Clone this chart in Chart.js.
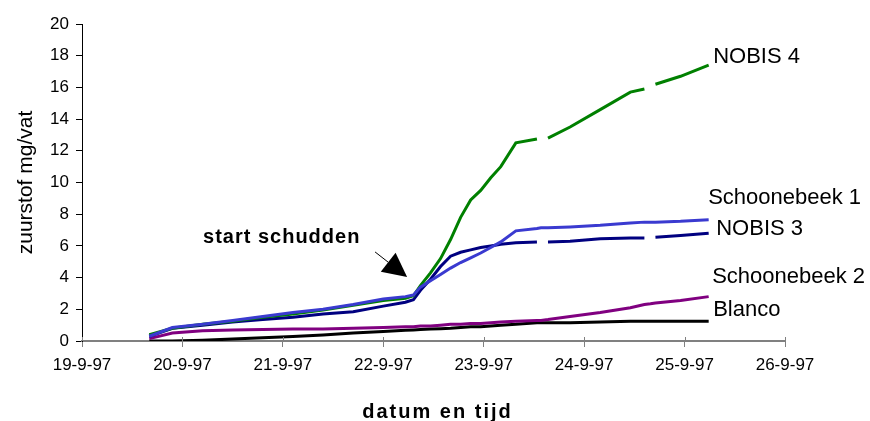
<!DOCTYPE html>
<html>
<head>
<meta charset="utf-8">
<script src="https://cdn.jsdelivr.net/npm/chart.js@4.4.1/dist/chart.umd.min.js"></script>
<style>
  body { margin: 0; background: #fff; }
  canvas { display: block; }
</style>
</head>
<body>
<canvas id="chart" width="870" height="421"></canvas>
<script>
// x: dagen sinds 19-9-97 00:00
const tickLabels = ['19-9-97', '20-9-97', '21-9-97', '22-9-97', '23-9-97', '24-9-97', '25-9-97', '26-9-97'];

const times = [0.67, 0.9, 1.2, 1.5, 1.8, 2.1, 2.4, 2.7, 3.0, 3.22, 3.3, 3.37, 3.47, 3.57, 3.67, 3.77,
  3.87, 3.97, 4.07, 4.17, 4.32, 4.53, 4.57, 4.64, 4.86, 5.16, 5.46, 5.6, 5.66, 5.71, 5.96, 6.24];

const schoonebeek1 = [0.3, 0.85, 1.05, 1.3, 1.55, 1.8, 2.0, 2.3, 2.65, 2.8, 2.9, 3.4, 3.8, 4.2, 4.6, 4.95,
  5.25, 5.55, 5.9, 6.25, 6.95, 7.1, 7.15, 7.15, 7.2, 7.3, 7.45, 7.5, 7.5, 7.5, 7.55, 7.65];

const nobis4 = [0.4, 0.8, 1.05, 1.25, 1.5, 1.7, 1.95, 2.25, 2.55, 2.7, 2.85, 3.5, 4.3, 5.2, 6.4, 7.8,
  8.9, 9.5, 10.3, 11.0, 12.5, 12.75, null, 12.8, 13.5, 14.6, 15.7, 15.9, null, 16.2, 16.7, 17.4];

const nobis3 = [0.3, 0.8, 1.0, 1.2, 1.35, 1.5, 1.7, 1.85, 2.2, 2.45, 2.6, 3.2, 3.9, 4.7, 5.35, 5.6,
  5.75, 5.9, 6.0, 6.1, 6.2, 6.25, null, 6.25, 6.3, 6.45, 6.5, 6.5, null, 6.55, 6.65, 6.8];

const schoonebeek2 = [0.15, 0.5, 0.65, 0.7, 0.72, 0.75, 0.75, 0.8, 0.85, 0.9, 0.9, 0.95, 0.95, 1.0, 1.05, 1.05,
  1.1, 1.1, 1.15, 1.2, 1.25, 1.3, 1.3, 1.35, 1.55, 1.8, 2.1, 2.3, 2.35, 2.4, 2.55, 2.8];

const blanco = [0.0, 0.0, 0.05, 0.12, 0.2, 0.28, 0.38, 0.5, 0.6, 0.68, 0.7, 0.72, 0.75, 0.78, 0.8, 0.85,
  0.9, 0.9, 0.95, 1.0, 1.05, 1.15, 1.15, 1.15, 1.15, 1.2, 1.25, 1.25, 1.25, 1.25, 1.25, 1.25];

const series = [
  { label: 'Schoonebeek 1', values: schoonebeek1, color: '#3a3ad0' },
  { label: 'NOBIS 4', values: nobis4, color: '#008000' },
  { label: 'NOBIS 3', values: nobis3, color: '#000080' },
  { label: 'Schoonebeek 2', values: schoonebeek2, color: '#800080' },
  { label: 'Blanco', values: blanco, color: '#000000' }
];

// naam-labels rechts van de lijnen (x in dagen, y = basislijn)
const lineLabels = [
  { text: 'NOBIS 4', x: 6.285, y: 17.54 },
  { text: 'Schoonebeek 1', x: 6.235, y: 8.64 },
  { text: 'NOBIS 3', x: 6.315, y: 6.69 },
  { text: 'Schoonebeek 2', x: 6.275, y: 3.66 },
  { text: 'Blanco', x: 6.285, y: 1.58 }
];

const annotation = { text: 'start schudden', x: 1.205, y: 6.18, arrowFrom: [2.918, 5.62], arrowTo: [3.237, 4.04] };

const FONT = "'Liberation Sans', Arial, sans-serif";

const labelPlugin = {
  id: 'labels',
  afterDraw(chart) {
    const ctx = chart.ctx;
    const xs = chart.scales.x, ys = chart.scales.y;
    ctx.save();

    // x-ticks lopen door de as heen
    ctx.strokeStyle = '#808080';
    ctx.lineWidth = 1;
    const y0 = ys.getPixelForValue(0);
    xs.ticks.forEach(t => {
      const px = Math.round(xs.getPixelForValue(t.value)) + 0.5;
      ctx.beginPath();
      ctx.moveTo(px, y0 - 4);
      ctx.lineTo(px, y0);
      ctx.stroke();
    });

    ctx.fillStyle = '#000';
    ctx.textBaseline = 'alphabetic';
    ctx.textAlign = 'left';
    ctx.font = '22px ' + FONT;
    lineLabels.forEach(l => {
      ctx.fillText(l.text, xs.getPixelForValue(l.x), ys.getPixelForValue(l.y));
    });

    ctx.font = 'bold 20px ' + FONT;
    ctx.letterSpacing = '1px';
    ctx.fillText(annotation.text, xs.getPixelForValue(annotation.x), ys.getPixelForValue(annotation.y));

    // pijl
    const ax = xs.getPixelForValue(annotation.arrowFrom[0]), ay = ys.getPixelForValue(annotation.arrowFrom[1]);
    const bx = xs.getPixelForValue(annotation.arrowTo[0]), by = ys.getPixelForValue(annotation.arrowTo[1]);
    const ang = Math.atan2(by - ay, bx - ax);
    const headLen = 24, headW = 12;
    const hx = bx - headLen * Math.cos(ang), hy = by - headLen * Math.sin(ang);
    ctx.strokeStyle = '#000';
    ctx.lineWidth = 1;
    ctx.beginPath();
    ctx.moveTo(ax, ay);
    ctx.lineTo(hx, hy);
    ctx.stroke();
    ctx.beginPath();
    ctx.moveTo(bx, by);
    ctx.lineTo(hx + headW * Math.sin(ang), hy - headW * Math.cos(ang));
    ctx.lineTo(hx - headW * Math.sin(ang), hy + headW * Math.cos(ang));
    ctx.closePath();
    ctx.fill();

    // x-as titel
    ctx.font = 'bold 20px ' + FONT;
    ctx.letterSpacing = '2px';
    ctx.textAlign = 'center';
    const area = chart.chartArea;
    ctx.fillText('datum en tijd', (area.left + area.right) / 2 + 4, 418);
    ctx.restore();
  }
};

new Chart(document.getElementById('chart'), {
  type: 'line',
  data: {
    datasets: series.map(s => ({
      label: s.label,
      data: times.map((t, i) => ({ x: t, y: s.values[i] })),
      borderColor: s.color,
      backgroundColor: s.color,
      borderWidth: 3,
      pointRadius: 0,
      tension: 0,
      spanGaps: false
    }))
  },
  options: {
    responsive: false,
    animation: false,
    layout: { padding: { top: 24, right: 85, left: 0, bottom: 0 } },
    plugins: { legend: { display: false }, tooltip: { enabled: false } },
    scales: {
      x: {
        type: 'linear',
        min: 0,
        max: 7,
        afterFit: s => { s.height = 80; },
        afterBuildTicks: s => { s.ticks = tickLabels.map((_, i) => ({ value: i })); },
        ticks: {
          callback: v => tickLabels[v],
          color: '#000',
          font: { family: FONT, size: 17 },
          padding: 8,
          maxRotation: 0,
          autoSkip: false
        },
        grid: { drawOnChartArea: false, color: '#808080', tickLength: 6 },
        border: { color: '#808080', width: 2 }
      },
      y: {
        min: 0,
        max: 20,
        afterFit: s => { s.width = 82; },
        ticks: {
          stepSize: 2,
          color: '#000',
          font: { family: FONT, size: 17 },
          padding: 7
        },
        grid: { drawOnChartArea: false, color: '#000', tickLength: 6 },
        border: { color: '#000', width: 1 },
        title: {
          display: true,
          text: 'zuurstof mg/vat',
          color: '#000',
          font: { family: FONT, size: 21 },
          padding: { top: 14, bottom: 0 }
        }
      }
    }
  },
  plugins: [labelPlugin]
});
</script>
</body>
</html>
